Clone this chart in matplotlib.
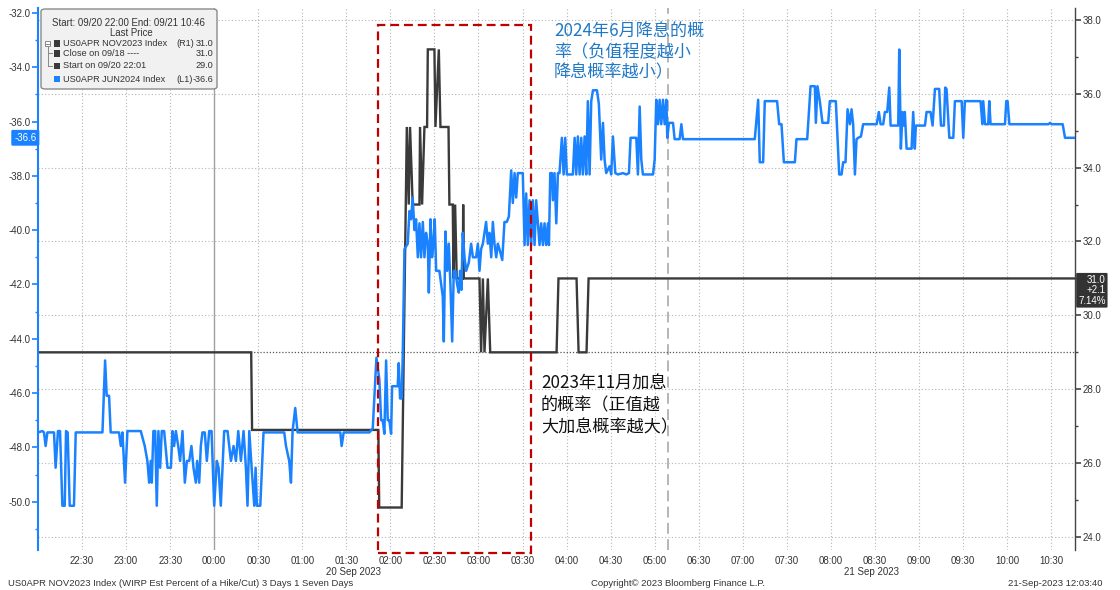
import matplotlib
matplotlib.use("Agg")
import matplotlib.pyplot as plt
from matplotlib.patches import Rectangle, FancyBboxPatch
from matplotlib.lines import Line2D
import matplotlib.transforms as mtransforms
from matplotlib.ticker import MultipleLocator, FormatStrFormatter

plt.rcParams['font.family'] = ['Liberation Sans', 'DejaVu Sans']

# ---------------- data ----------------
# x = session minutes after 09/20 22:00 (05:00-06:00 trading break removed), end 10:46
session_end = 706.3
break_pos = 429.0
day_change = 120.0
tick_pos = [30, 60, 90, 120, 150, 180, 210, 240, 270, 300, 330, 360, 390, 420,
            450, 480, 510, 540, 570, 600, 630, 660, 690]
tick_labels = ['22:30', '23:00', '23:30', '00:00', '00:30', '01:00', '01:30', '02:00',
               '02:30', '03:00', '03:30', '04:00', '04:30', '05:00', '06:30', '07:00',
               '07:30', '08:00', '08:30', '09:00', '09:30', '10:00', '10:30']

# US0APR NOV2023 Index (right axis)
nov_t = [0, 145.2, 145.8, 231.8, 232.4, 247.7, 251.2, 252.5, 253.4, 255.2, 259.8, 260.2,
         261.6, 263.2, 265.0, 265.5, 270.0, 270.7, 273.0, 274.1, 279.6, 280.2, 282.5,
         283.0, 284.1, 285.2, 289.3, 289.6, 290.0, 300.7, 301.8, 303.0, 304.1, 306.4,
         308.0, 353.2, 354.5, 366.8, 368.2, 373.6, 375.0, 706.3]
nov_v = [29.0, 29.0, 26.9, 26.9, 24.8, 24.8, 35.1, 33.0, 35.1, 33.0, 33.0, 35.1,
         33.0, 35.1, 35.1, 37.2, 37.2, 35.1, 37.2, 35.1, 35.1, 33.0, 33.0,
         31.0, 33.0, 31.0, 31.0, 33.0, 31.0, 31.0, 29.0, 31.0, 29.0, 31.0,
         29.0, 29.0, 31.0, 31.0, 29.0, 29.0, 31.0, 31.0]
nov_start = 29.0

# US0APR JUN2024 Index (left axis)
jun_t = [0, 3.0, 4.1, 5.2, 6.4, 10.9, 12.0, 13.6, 15.0, 16.6, 18.2, 19.1, 20.2, 21.6, 24.5,
         25.7, 43.9, 45.7, 46.8, 48.4, 49.5, 55.2, 56.4, 57.5, 59.3, 60.9, 70.0, 72.7, 74.5,
         75.7, 76.8, 77.5, 78.6, 79.8, 80.9, 82.0, 83.2, 84.3, 85.9, 88.2, 90.5, 91.6, 92.7,
         93.9, 95.5, 96.8, 98.4, 100.0, 101.4, 103.0, 104.5, 105.9, 107.5, 108.4, 109.8,
         110.9, 112.0, 113.6, 115.0, 116.6, 118.2, 120.0, 121.8, 123.0, 124.5, 126.8, 129.1,
         131.4, 133.2, 134.8, 136.4, 138.2, 140.0, 141.6, 142.7, 143.9, 145.5, 147.3, 148.2,
         149.1, 151.4, 153.6, 167.7, 168.9, 171.1, 172.3, 173.4, 175.2, 176.8, 205.9, 206.8,
         208.2, 225.7, 228.0, 230.5,
         232.5, 233.7, 234.8, 235.9, 237.1, 238.2, 239.3, 240.5, 241.2, 245.0, 245.7, 246.6,
         247.7, 248.4, 249.6, 250.7, 251.8, 253.0, 254.1, 255.2, 256.4, 257.5, 258.7, 259.8,
         260.9, 262.1, 263.2, 264.3, 265.5, 266.2, 267.3, 268.4, 269.3, 270.2, 271.2, 273.4,
         274.6, 275.7, 276.4, 277.5, 278.7, 279.8, 280.9, 282.1, 283.2, 284.3, 285.5, 286.6,
         287.5, 288.4, 289.3, 290.5, 291.6, 293.4, 295.0, 296.2, 298.4, 299.6, 300.7, 301.8,
         303.0, 304.1, 305.2, 306.4, 307.5, 308.7, 309.8, 310.9, 312.1, 313.2, 314.3, 316.2,
         317.7, 319.3, 320.7, 322.3, 323.4, 324.6, 325.7, 326.8,
         328.0, 330.2, 331.4, 332.5, 333.6, 334.8, 335.9, 337.0, 338.2, 339.3, 340.5, 341.6,
         342.7, 343.9, 345.0, 346.1, 347.3, 348.0, 348.9, 350.0, 350.7, 351.8, 353.0, 354.1,
         355.2, 356.8, 358.0, 359.1, 360.2, 364.3, 365.5, 366.6, 367.7, 368.9, 370.0, 371.1,
         372.3, 373.4, 374.5, 375.7, 376.8, 378.0, 380.7, 382.0, 383.6, 384.8, 385.9, 387.0,
         389.3, 390.4, 391.6, 393.2, 395.0, 398.4, 400.7, 402.5, 403.6, 407.5, 408.6, 409.8,
         410.9, 412.0, 418.9, 420.0, 421.1, 422.3, 423.4, 424.5, 425.7, 426.8, 428.0, 428.6,
         429.8, 432.5, 433.6, 437.0, 438.2, 439.3,
         488.2, 490.5, 491.6, 493.9, 495.0, 503.4, 504.8, 506.4, 508.0, 515.5, 516.6, 523.9,
         526.2, 529.1, 529.8, 530.9, 532.5, 534.3, 538.2, 539.3, 543.4, 545.7, 547.3, 548.4,
         550.0, 551.4, 553.0, 554.1, 555.2, 556.4, 557.5, 558.7, 560.5, 562.0, 571.2, 572.7,
         573.9, 575.7, 576.8, 578.4, 579.8, 580.7, 585.9, 586.6,
         587.7, 588.8, 589.7, 590.4, 591.6, 595.0, 596.1, 597.2, 597.9, 604.1, 605.2, 607.9,
         609.3, 610.9, 613.8, 615.0, 617.0, 617.9, 618.8, 620.7, 623.4, 624.5, 629.1, 630.2,
         631.3, 635.9, 640.4, 642.0, 643.2, 643.8, 645.0, 647.2, 647.9, 648.8, 658.6, 659.5,
         660.4, 661.6, 688.2, 689.3, 690.4, 697.9, 699.5, 705.2, 706.3]
jun_v = [-47.45, -47.4, -47.45, -47.95, -47.45, -47.45, -48.75, -47.4, -47.4, -50.15, -50.15,
         -47.4, -47.45, -50.15, -50.15,
         -47.45, -47.45, -44.8, -46.1, -46.1, -47.45, -47.45, -47.95, -47.45, -49.3, -47.4,
         -47.4, -47.95, -48.5,
         -49.3, -48.5, -49.3, -47.4, -47.4, -50.15, -47.4, -48.75, -47.4, -47.4, -48.75,
         -48.75, -47.4, -47.95,
         -47.4, -47.95, -48.5, -47.4, -49.3, -48.5, -48.5, -47.95, -48.75, -49.3, -48.5, -49.3,
         -47.95, -47.45, -47.45, -48.5, -47.4, -47.4, -50.15, -48.5, -48.75, -50.15, -47.4,
         -47.4,
         -48.5, -47.95, -48.5, -47.4, -48.5, -47.4, -48.75, -50.15, -47.4, -48.75, -50.15,
         -48.75,
         -50.15, -50.15, -47.45, -47.45, -47.95, -48.5, -49.3, -47.4, -46.55, -47.45, -47.45,
         -47.95,
         -47.45, -47.45, -47.3, -44.7,
         -45.5, -47.0, -47.0, -47.5, -44.8, -47.0, -47.0, -47.5, -45.75, -45.75, -44.9, -46.2,
         -46.2, -44.7, -40.7, -40.6, -40.5, -39.3, -39.6, -38.8, -40.0, -39.6, -41.0, -39.75,
         -41.0, -39.7, -41.0, -40.1, -40.5, -42.3, -39.6, -41.0, -40.5, -39.6, -41.5, -41.5,
         -42.0, -42.45, -44.1, -40.05, -41.5, -40.5, -42.0, -44.1, -41.5, -41.5, -42.0, -42.3,
         -41.5, -42.2, -40.1, -41.0, -41.5, -41.2, -40.5, -41.0, -41.0, -40.5, -41.5, -40.7,
         -40.5, -40.1, -39.7, -40.5, -40.1, -41.0, -39.7, -40.5, -41.0, -40.5, -40.7, -41.1,
         -39.7, -39.7, -39.5, -37.8, -39.0, -37.9, -38.8, -37.9,
         -37.9, -37.9, -40.55, -38.65, -40.55, -38.9, -40.55, -38.9, -40.55, -38.9, -39.75,
         -40.55,
         -39.75, -40.55, -39.75, -40.55, -39.75, -40.55, -37.9, -37.9, -38.9, -37.9, -39.75,
         -37.9,
         -37.9, -36.6, -37.95, -36.6, -37.95, -37.95, -36.6, -37.95, -36.55, -37.95, -36.6,
         -37.95,
         -36.55, -37.95, -35.25, -37.95, -35.25, -34.85, -34.85, -35.35, -37.4, -36.05, -37.4,
         -37.9,
         -37.65, -37.95, -36.55, -37.9, -37.95, -37.9, -37.95, -37.9, -36.6, -36.6, -37.95,
         -35.45,
         -37.4, -37.95, -37.95, -37.4, -35.2, -36.1, -35.2, -36.1, -35.2, -36.1, -35.2, -36.6,
         -36.05, -36.05, -36.65, -36.65, -36.1, -36.65,
         -36.65, -35.2, -37.5, -37.5, -35.25, -35.25, -36.1, -36.1, -37.5, -37.5, -36.65,
         -36.65,
         -34.7, -34.7, -36.05, -34.7, -35.25, -36.05, -36.05, -35.25, -35.25, -37.95, -37.95,
         -37.5,
         -37.5, -35.55, -36.1, -35.55, -36.1, -37.95, -36.65, -36.6, -36.55, -36.1, -36.1,
         -35.65,
         -36.1, -36.1, -35.65, -35.65, -34.75, -36.15, -36.15, -33.35,
         -37.0, -35.65, -36.15, -35.65, -37.0, -37.0, -35.65, -37.0, -36.15, -36.15, -35.65,
         -35.65,
         -36.15, -34.8, -34.8, -36.15, -36.15, -34.75, -34.8, -36.6, -36.6, -35.25, -35.25,
         -36.6,
         -35.25, -35.25, -35.25, -35.25, -36.1, -35.25, -36.1, -36.1, -35.25, -36.1, -36.1,
         -35.25,
         -35.25, -36.1, -36.1, -36.05, -36.1, -36.1, -36.6, -36.6, -36.6]

jun_last = -36.6
nov_last, nov_chg, nov_pct = 31.0, 2.1, 7.14

# ---------------- figure ----------------
W, H = 1120, 590
L, R, T, B = 38, 1075, 8, 550
fig = plt.figure(figsize=(W / 100, H / 100), dpi=100)
fig.patch.set_facecolor('white')


def P(x, y):
    return (x / W, 1 - y / H)


ax = fig.add_axes([L / W, 1 - B / H, (R - L) / W, (B - T) / H])
ax2 = ax.twinx()
ax.set_zorder(2)
ax2.set_zorder(1)
ax.patch.set_visible(False)
ax2.patch.set_visible(True)
ax2.patch.set_facecolor('white')

BLUE = '#1a82ff'
DARK = '#3a3a3a'
TXT = '#333333'

ax.set_xlim(0, session_end)
ax.set_ylim(-51.78, -31.82)
ax2.set_ylim(23.65, 38.32)

# grids on the lower axes
for t in tick_pos:
    if t == day_change:
        continue
    ax2.axvline(t, color='#b5b5b5', lw=0.8, ls=(0, (1, 2)), zorder=0)
ax2.axvline(day_change, color='#a0a0a0', lw=1.0, zorder=0)
ax2.axvline(break_pos, color='#b0b0b0', lw=1.3, ls=(0, (6, 3)), zorder=0)
ax2.yaxis.set_major_locator(MultipleLocator(2))
ax2.yaxis.set_minor_locator(MultipleLocator(1))
ax2.grid(axis='y', which='major', color='#b5b5b5', lw=0.8, ls=(0, (1, 2)))
ax2.axhline(nov_start, color='#555555', lw=0.9, ls=(0, (1, 1.5)), zorder=0.5)

ax2.plot(nov_t, nov_v, color=DARK, lw=1.7, zorder=3, solid_joinstyle='miter')
ax.plot(jun_t, jun_v, color=BLUE, lw=1.8, zorder=3)

# axes styling
for s in ['top', 'bottom', 'right']:
    ax.spines[s].set_visible(False)
for s in ['top', 'bottom', 'left']:
    ax2.spines[s].set_visible(False)
ax.spines['left'].set_color(BLUE)
ax.spines['left'].set_linewidth(1.5)
ax2.spines['right'].set_color('#444444')
ax2.spines['right'].set_linewidth(1.0)

ax.yaxis.set_major_locator(MultipleLocator(2))
ax.yaxis.set_minor_locator(MultipleLocator(1))
ax.yaxis.set_major_formatter(FormatStrFormatter('%.1f'))
ax2.yaxis.set_major_formatter(FormatStrFormatter('%.1f'))
ax.tick_params(axis='y', which='major', direction='out', length=4, width=1.2,
               color=BLUE, labelcolor=TXT, labelsize=7, pad=1.5)
ax.tick_params(axis='y', which='minor', direction='out', length=2.5, width=1,
               color=BLUE)
ax2.tick_params(axis='y', which='major', direction='out', length=4, width=1.2,
                color='#444444', labelcolor=TXT, labelsize=7, pad=1.5)
ax2.tick_params(axis='y', which='minor', direction='out', length=2.5, width=1,
                color='#444444')
ax.set_xticks(tick_pos)
ax.set_xticklabels(tick_labels)
ax.tick_params(axis='x', length=0, labelsize=7, labelcolor=TXT, pad=4.5)

# red dashed box
trans_box = mtransforms.blended_transform_factory(ax.transData, ax.transAxes)
ax.add_patch(Rectangle((231.3, -0.006), 336.0 - 231.3, 0.9686 + 0.006,
                       transform=trans_box, fill=False, ec='#c00000', lw=1.6,
                       ls=(0, (4, 2.2)), zorder=10, clip_on=False))

# value tags on axes
ax.text(-0.0015, jun_last, f'{jun_last:.1f}', transform=mtransforms.blended_transform_factory(
    ax.transAxes, ax.transData), ha='right', va='center', fontsize=7, color='white',
    bbox=dict(boxstyle='round,pad=0.3,rounding_size=0.15', fc=BLUE, ec='none'),
    zorder=12, clip_on=False)
ax2.text(1.003, 30.68, f'{nov_last:.1f}\n+{nov_chg:.1f}\n{nov_pct:.2f}%',
         transform=mtransforms.blended_transform_factory(ax2.transAxes, ax2.transData),
         ha='left', va='center', fontsize=7, color='white', multialignment='right',
         linespacing=1.05,
         bbox=dict(boxstyle='round,pad=0.2,rounding_size=0.1', fc='#333333', ec='none'),
         zorder=12, clip_on=False)

# date labels under the axis
fig.text(*P(353, 572), '20 Sep 2023', ha='center', va='center', fontsize=7, color=TXT)
fig.text(*P(872, 572), '21 Sep 2023', ha='center', va='center', fontsize=7, color=TXT)

# footer
fig.text(*P(8, 583), 'US0APR NOV2023 Index (WIRP Est Percent of a Hike/Cut) 3 Days 1 Seven Days',
         ha='left', va='center', fontsize=6.8, color=TXT)
fig.text(*P(678, 583), 'Copyright\u00a9 2023 Bloomberg Finance L.P.', ha='center',
         va='center', fontsize=6.8, color=TXT)
fig.text(*P(1103, 583), '21-Sep-2023 12:03:40', ha='right', va='center', fontsize=6.8,
         color=TXT)

# legend box (Bloomberg style)
x0, y0 = P(41, 89)
x1, y1 = P(217, 9)
fig.add_artist(FancyBboxPatch((x0, y0), x1 - x0, y1 - y0,
                              boxstyle='round,pad=0,rounding_size=0.004',
                              transform=fig.transFigure, fc='#f1f1f1', ec='#8a8a8a',
                              lw=1.0, zorder=20))
lfs = 6.6
fig.text(*P(52, 23), 'Start: 09/20 22:00 End: 09/21 10:46', ha='left', va='center',
         fontsize=6.9, color=TXT, zorder=21)
fig.text(*P(131, 33.3), 'Last Price', ha='center', va='center', fontsize=6.9, color=TXT,
         zorder=21)
legend_rows = [
    (43.3, DARK, 'US0APR NOV2023 Index', '(R1)', f'{nov_last:.1f}'),
    (53.3, DARK, 'Close on 09/18 ----', '', '31.0'),
    (66.0, DARK, 'Start on 09/20 22:01', '', f'{nov_start:.1f}'),
    (79.0, BLUE, 'US0APR JUN2024 Index', '(L1)', f'{jun_last:.1f}'),
]
for yy, col, name, tag, val in legend_rows:
    sx, sy = P(53.5, yy + 3.2)
    fig.add_artist(Rectangle((sx, sy), 6.5 / W, 6.5 / H, transform=fig.transFigure,
                             fc=col, ec='none', zorder=21))
    fig.text(*P(63, yy), name, ha='left', va='center', fontsize=lfs, color=TXT, zorder=21)
    if tag:
        fig.text(*P(176.5, yy), tag, ha='left', va='center', fontsize=lfs, color=TXT,
                 zorder=21)
    fig.text(*P(213.5, yy), val, ha='right', va='center', fontsize=lfs, color=TXT, zorder=21)
# tree glyph
bx, by = P(45, 46)
fig.add_artist(Rectangle((bx, by), 5 / W, 5 / H, transform=fig.transFigure, fc='white',
                         ec='#888888', lw=0.7, zorder=21))
for xs, ys in [([45.8, 49.2], [43.5, 43.5]), ([47.5, 47.5], [46, 66]),
               ([47.5, 52], [53.3, 53.3]), ([47.5, 52], [66, 66])]:
    fig.add_artist(Line2D([x / W for x in xs], [1 - y / H for y in ys],
                          transform=fig.transFigure, color='#888888', lw=0.7, zorder=21))

# Chinese annotations
cjk = ['Noto Sans CJK SC', 'DejaVu Sans']
fig.text(*P(554, 22), '2024年6月降息的概\n率（负值程度越小\n降息概率越小）', ha='left', va='top',
         fontsize=12.3, color='#2179c6', family=cjk, linespacing=1.2)
fig.text(*P(541, 375), '2023年11月加息\n的概率（正值越\n大加息概率越大）', ha='left', va='top',
         fontsize=12.3, color='#111111', family=cjk, linespacing=1.25)

fig.savefig('out.png', dpi=100, facecolor='white')
